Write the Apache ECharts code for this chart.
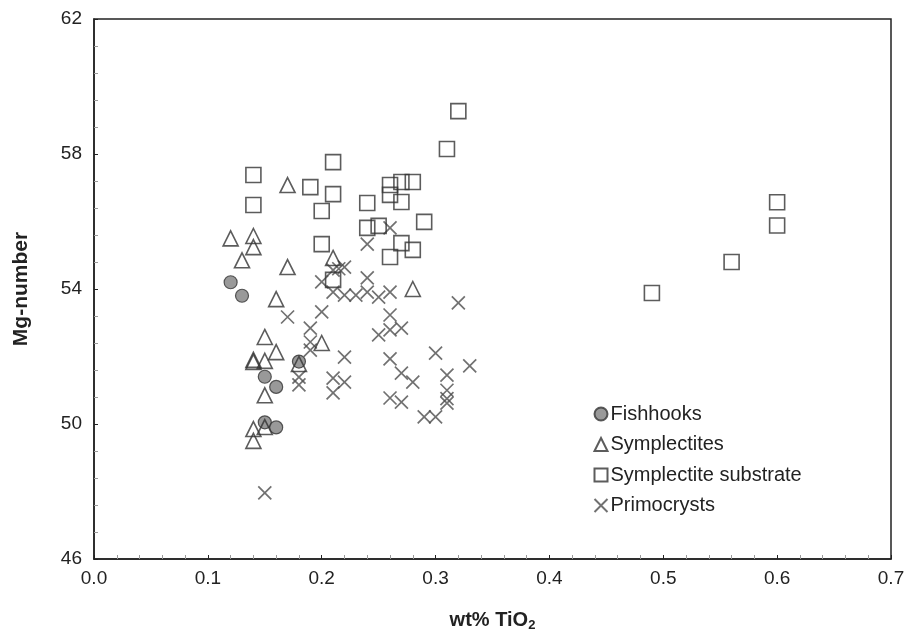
<!DOCTYPE html>
<html>
<head>
<meta charset="utf-8">
<script src="https://cdn.jsdelivr.net/npm/echarts@6/dist/echarts.min.js"></script>
<style>
  html, body { margin: 0; padding: 0; background: #fff; }
  #chart { width: 909px; height: 640px; }
</style>
</head>
<body>
<div id="chart"></div>
<script>
// data: [wt% TiO2, Mg-number]
const fishhooks = [
  [0.12, 54.2], [0.13, 53.8], [0.15, 51.4], [0.16, 51.1],
  [0.18, 51.85], [0.15, 50.05], [0.16, 49.9]
];
const symplectites = [
  [0.12, 55.5], [0.14, 55.57], [0.14, 55.24], [0.13, 54.85], [0.17, 54.65],
  [0.17, 57.08], [0.21, 54.92], [0.28, 54.0], [0.16, 53.7], [0.15, 52.58],
  [0.16, 52.13], [0.14, 51.9], [0.14, 51.84], [0.15, 51.87], [0.18, 51.78],
  [0.20, 52.4], [0.15, 50.85], [0.14, 49.85], [0.14, 49.5], [0.15, 49.91]
];
const substrate = [
  [0.14, 57.38], [0.14, 56.49], [0.19, 57.02], [0.21, 57.76], [0.21, 56.81],
  [0.20, 56.31], [0.20, 55.33], [0.24, 56.55], [0.24, 55.81], [0.25, 55.87],
  [0.26, 57.08], [0.26, 56.79], [0.27, 57.17], [0.28, 57.17], [0.27, 56.58],
  [0.29, 55.99], [0.27, 55.36], [0.28, 55.16], [0.26, 54.95], [0.31, 58.15],
  [0.32, 59.27], [0.21, 54.27], [0.49, 53.88], [0.56, 54.8], [0.60, 56.57],
  [0.60, 55.88]
];
const primocrysts = [
  [0.24, 55.33], [0.26, 55.81], [0.22, 54.65], [0.21, 54.56], [0.215, 54.6],
  [0.20, 54.21], [0.21, 53.91], [0.22, 53.82], [0.23, 53.82], [0.24, 54.33],
  [0.24, 53.91], [0.25, 53.76], [0.26, 53.91], [0.32, 53.59], [0.17, 53.17],
  [0.20, 53.32], [0.19, 52.84], [0.26, 53.23], [0.25, 52.64], [0.26, 52.79],
  [0.27, 52.84], [0.19, 52.43], [0.19, 52.19], [0.22, 51.98], [0.26, 51.93],
  [0.30, 52.1], [0.33, 51.72], [0.18, 51.39], [0.18, 51.16], [0.21, 51.36],
  [0.22, 51.24], [0.21, 50.92], [0.27, 51.51], [0.28, 51.24], [0.31, 51.45],
  [0.31, 51.0], [0.31, 50.75], [0.31, 50.62], [0.26, 50.77], [0.27, 50.65],
  [0.29, 50.21], [0.30, 50.21], [0.15, 47.96]
];
const xTicks = { min: 0, max: 0.7, step: 0.1 };
const yTicks = { min: 46, max: 62, step: 4 };

const chart = echarts.init(document.getElementById('chart'));
const font = 'Liberation Sans, Arial, sans-serif';

chart.setOption({
  animation: false,
  textStyle: { fontFamily: font },
  grid: {
    left: 94, right: 18, top: 19, bottom: 81,
    show: true, borderColor: '#222', borderWidth: 1.5
  },
  legend: {
    orient: 'vertical',
    left: 587, top: 399,
    itemWidth: 13, itemHeight: 13, itemGap: 10.5,
    textStyle: { fontSize: 20, color: '#222', fontFamily: font, padding: [0, 0, 0, -2] },
    data: ['Fishhooks', 'Symplectites', 'Symplectite substrate', 'Primocrysts']
  },
  xAxis: {
    type: 'value',
    min: xTicks.min, max: xTicks.max, interval: xTicks.step,
    name: 'wt% TiO{sub|2}',
    nameLocation: 'middle', nameGap: 50,
    nameTextStyle: {
      fontSize: 20, fontWeight: 'bold', color: '#222',
      rich: { sub: { fontSize: 13, fontWeight: 'bold', color: '#222', verticalAlign: 'bottom', padding: [10, 0, 0, 0] } }
    },
    axisLine: { show: true, lineStyle: { color: '#222', width: 1.5 } },
    axisTick: { show: true, inside: true, length: 4, lineStyle: { color: '#222' } },
    minorTick: { show: true, splitNumber: 5, length: 4, lineStyle: { color: '#999' } },
    axisLabel: { fontSize: 19, color: '#222', margin: 10, formatter: v => v.toFixed(1) },
    splitLine: { show: false }
  },
  yAxis: {
    type: 'value',
    min: yTicks.min, max: yTicks.max, interval: yTicks.step,
    name: 'Mg-number',
    nameLocation: 'middle', nameGap: 62, nameRotate: 90,
    nameTextStyle: { fontSize: 21, fontWeight: 'bold', color: '#222' },
    axisLine: { show: true, lineStyle: { color: '#222', width: 1.5 } },
    axisTick: { show: true, inside: true, length: 4, lineStyle: { color: '#222' } },
    minorTick: { show: true, splitNumber: 5, length: 4, lineStyle: { color: '#999' } },
    axisLabel: { fontSize: 19, color: '#222', margin: 12 },
    splitLine: { show: false }
  },
  series: [
    {
      name: 'Primocrysts', type: 'scatter', z: 2,
      symbol: 'path://M0,0L10,10M10,0L0,10', symbolSize: 13,
      itemStyle: { color: 'none', borderColor: '#4d4d4d', borderWidth: 1.7 },
      data: primocrysts
    },
    {
      name: 'Symplectite substrate', type: 'scatter', z: 3,
      symbol: 'rect', symbolSize: 15,
      itemStyle: { color: 'none', borderColor: '#333', borderWidth: 1.6 },
      data: substrate
    },
    {
      name: 'Fishhooks', type: 'scatter', z: 4,
      symbol: 'circle', symbolSize: 13,
      itemStyle: { color: '#808080', borderColor: '#333', borderWidth: 1.2 },
      data: fishhooks
    },
    {
      name: 'Symplectites', type: 'scatter', z: 5,
      symbol: 'triangle', symbolSize: 15,
      itemStyle: { color: 'none', borderColor: '#333', borderWidth: 1.6 },
      data: symplectites
    }
  ]
});
</script>
</body>
</html>
